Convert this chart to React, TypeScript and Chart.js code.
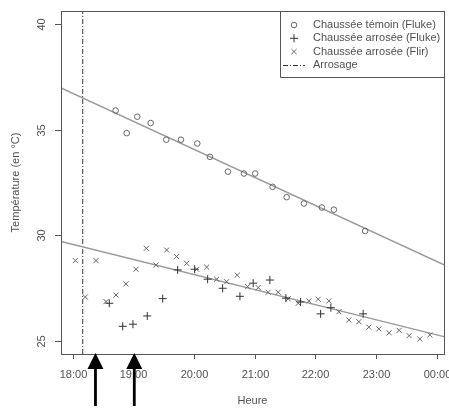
import React, { useEffect, useRef } from "react";
import { Chart, registerables } from "chart.js";

Chart.register(...registerables);

// Times in decimal hours, temperatures in °C
const temoinTimes = [18.708, 18.89, 19.064, 19.285, 19.542, 19.784, 20.053, 20.262, 20.558, 20.822, 21.008, 21.295, 21.526, 21.811, 22.107, 22.305, 22.82];
const temoinTemps = [35.9, 34.83, 35.61, 35.31, 34.52, 34.52, 34.34, 33.71, 33.01, 32.92, 32.92, 32.29, 31.8, 31.5, 31.31, 31.21, 30.2];

const flukeTimes = [18.603, 18.824, 18.993, 19.229, 19.483, 19.73, 20.01, 20.224, 20.471, 20.756, 20.975, 21.25, 21.514, 21.756, 22.086, 22.255, 22.787];
const flukeTemps = [26.78, 25.69, 25.79, 26.18, 27.0, 28.36, 28.39, 27.92, 27.49, 27.11, 27.73, 27.88, 27.02, 26.84, 26.28, 26.57, 26.28];

const flirTimes = [18.043, 18.208, 18.384, 18.549, 18.713, 18.878, 19.043, 19.213, 19.372, 19.549, 19.713, 19.878, 20.043, 20.208, 20.372, 20.537, 20.712, 20.883, 21.058, 21.222, 21.387, 21.552, 21.717, 21.893, 22.046, 22.222, 22.387, 22.552, 22.717, 22.881, 23.046, 23.216, 23.381, 23.545, 23.722, 23.886];
const flirTemps = [28.8, 27.08, 28.8, 26.86, 27.17, 27.7, 28.39, 29.38, 28.59, 29.3, 28.99, 28.67, 28.39, 28.49, 27.92, 27.8, 28.11, 27.57, 27.52, 27.3, 27.3, 26.99, 26.78, 26.89, 26.97, 26.89, 26.38, 25.99, 25.91, 25.65, 25.57, 25.38, 25.5, 25.25, 25.09, 25.28];

// Regression lines: [intercept, slope per hour]
const fitTemoin = [60.58, -1.326];
const fitArrosee = [42.4, -0.713];

const arrosageTime = [18.165];
const arrowTimes = [18.375, 19.015];

const xTicks = [18, 19, 20, 21, 22, 23, 24];
const xTickLabels = ["18:00", "19:00", "20:00", "21:00", "22:00", "23:00", "00:00"];
const yTicks = [25, 30, 35, 40];
const yTickLabels = ["25", "30", "35", "40"];

const legendLabels = ["Chaussée témoin (Fluke)", "Chaussée arrosée (Fluke)", "Chaussée arrosée (Flir)", "Arrosage"];

const X_MIN = 17.807;
const X_MAX = 24.12;
const Y_MIN = 24.38;
const Y_MAX = 40.61;

const FONT = "11px 'Liberation Sans', Arial, sans-serif";
const TEXT = "#505050";
const DASH = [5, 2, 1, 2];

const zip = (xs: number[], ys: number[]) => xs.map((x, i) => ({ x, y: ys[i] }));
const fitLine = (f: number[]) => [
  { x: X_MIN, y: f[0] + f[1] * X_MIN },
  { x: X_MAX, y: f[0] + f[1] * X_MAX },
];

const decorPlugin = {
  id: "decor",
  afterDraw(chart: any) {
    const ctx = chart.ctx as CanvasRenderingContext2D;
    const { left, top, right, bottom } = chart.chartArea;
    const xs = chart.scales.x;
    const ys = chart.scales.y;
    ctx.save();
    // frame
    ctx.strokeStyle = "#555";
    ctx.lineWidth = 1;
    ctx.strokeRect(Math.round(left) + 0.5, Math.round(top) + 0.5, Math.round(right - left), Math.round(bottom - top));

    ctx.font = FONT;
    ctx.fillStyle = TEXT;
    // x ticks
    ctx.textAlign = "center";
    ctx.textBaseline = "middle";
    xTicks.forEach((t, i) => {
      const px = Math.round(xs.getPixelForValue(t)) + 0.5;
      ctx.beginPath();
      ctx.moveTo(px, bottom);
      ctx.lineTo(px, bottom + 5);
      ctx.stroke();
      ctx.fillText(xTickLabels[i], px, 374.5);
    });
    // y ticks
    yTicks.forEach((v, i) => {
      const py = Math.round(ys.getPixelForValue(v)) + 0.5;
      ctx.beginPath();
      ctx.moveTo(left - 6, py);
      ctx.lineTo(left, py);
      ctx.stroke();
      ctx.save();
      ctx.translate(42, py);
      ctx.rotate(-Math.PI / 2);
      ctx.fillText(yTickLabels[i], 0, 0);
      ctx.restore();
    });
    // titles
    ctx.fillText("Heure", (left + right) / 2, 401);
    ctx.save();
    ctx.translate(16, (top + bottom) / 2);
    ctx.rotate(-Math.PI / 2);
    ctx.fillText("Température (en °C)", 0, 0);
    ctx.restore();

    // legend
    const lx = 280.5;
    const ly = 77.5;
    ctx.strokeStyle = "#555";
    ctx.beginPath();
    ctx.moveTo(lx, top);
    ctx.lineTo(lx, ly);
    ctx.lineTo(right, ly);
    ctx.stroke();
    const rows = [25, 38.3, 51.6, 65];
    const sx = 294;
    ctx.textAlign = "left";
    legendLabels.forEach((lab, i) => ctx.fillText(lab, 313, rows[i]));
    // symbols
    ctx.lineWidth = 1;
    ctx.strokeStyle = "#666";
    ctx.beginPath();
    ctx.arc(sx, rows[0], 2.8, 0, Math.PI * 2);
    ctx.stroke();
    ctx.strokeStyle = "#333";
    ctx.beginPath();
    ctx.moveTo(sx - 4, rows[1]);
    ctx.lineTo(sx + 4, rows[1]);
    ctx.moveTo(sx, rows[1] - 4);
    ctx.lineTo(sx, rows[1] + 4);
    ctx.stroke();
    ctx.strokeStyle = "#666";
    const d = 2.6;
    ctx.beginPath();
    ctx.moveTo(sx - d, rows[2] - d);
    ctx.lineTo(sx + d, rows[2] + d);
    ctx.moveTo(sx - d, rows[2] + d);
    ctx.lineTo(sx + d, rows[2] - d);
    ctx.stroke();
    ctx.strokeStyle = "#333";
    ctx.setLineDash(DASH);
    ctx.beginPath();
    ctx.moveTo(283, rows[3] + 0.5);
    ctx.lineTo(305, rows[3] + 0.5);
    ctx.stroke();
    ctx.setLineDash([]);

    // arrows
    ctx.fillStyle = "#000";
    arrowTimes.forEach((t) => {
      const px = xs.getPixelForValue(t);
      ctx.beginPath();
      ctx.moveTo(px, 353);
      ctx.lineTo(px + 8, 369);
      ctx.lineTo(px + 1.4, 369);
      ctx.lineTo(px + 1.4, 406);
      ctx.lineTo(px - 1.4, 406);
      ctx.lineTo(px - 1.4, 369);
      ctx.lineTo(px - 8, 369);
      ctx.closePath();
      ctx.fill();
    });
    ctx.restore();
  },
};

export default function App() {
  const ref = useRef<HTMLCanvasElement>(null);
  useEffect(() => {
    document.body.style.margin = "0";
    if (!ref.current) return;
    const chart = new Chart(ref.current, {
      type: "scatter",
      data: {
        datasets: [
          {
            label: legendLabels[0],
            data: zip(temoinTimes, temoinTemps),
            pointStyle: "circle",
            pointRadius: 2.8,
            borderColor: "#666",
            backgroundColor: "rgba(0,0,0,0)",
            borderWidth: 1,
          },
          {
            label: legendLabels[1],
            data: zip(flukeTimes, flukeTemps),
            pointStyle: "cross",
            pointRadius: 4,
            borderColor: "#333",
            borderWidth: 1,
          },
          {
            label: legendLabels[2],
            data: zip(flirTimes, flirTemps),
            pointStyle: "crossRot",
            pointRadius: 3.6,
            borderColor: "#666",
            borderWidth: 1,
          },
          {
            label: "fit1",
            data: fitLine(fitTemoin),
            showLine: true,
            pointRadius: 0,
            borderColor: "#999",
            borderWidth: 1.4,
          },
          {
            label: "fit2",
            data: fitLine(fitArrosee),
            showLine: true,
            pointRadius: 0,
            borderColor: "#999",
            borderWidth: 1.4,
          },
          {
            label: legendLabels[3],
            data: [
              { x: arrosageTime[0], y: Y_MIN },
              { x: arrosageTime[0], y: Y_MAX },
            ],
            showLine: true,
            pointRadius: 0,
            borderColor: "#333",
            borderWidth: 1,
            borderDash: DASH,
          },
        ],
      },
      options: {
        animation: false,
        responsive: false,
        devicePixelRatio: 1,
        layout: { padding: { left: 61, top: 11, right: 5, bottom: 55 } },
        plugins: { legend: { display: false }, title: { display: false }, tooltip: { enabled: false } },
        events: [],
        scales: {
          x: { type: "linear", min: X_MIN, max: X_MAX, display: false },
          y: { type: "linear", min: Y_MIN, max: Y_MAX, display: false },
        },
      },
      plugins: [decorPlugin],
    });
    return () => chart.destroy();
  }, []);
  return (
    <div style={{ position: "fixed", left: 0, top: 0, width: 449, height: 409, background: "#fff" }}>
      <canvas ref={ref} width={449} height={409} />
    </div>
  );
}
